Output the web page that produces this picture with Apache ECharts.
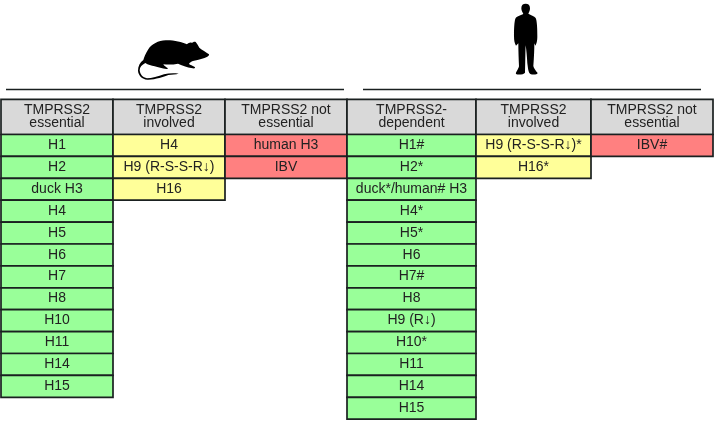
<!DOCTYPE html>
<html><head><meta charset="utf-8">
<style>html,body{margin:0;padding:0;background:#fff}#c{width:714px;height:422px}</style>
<script src="https://cdn.jsdelivr.net/npm/echarts@6/dist/echarts.min.js"></script>
</head><body><div id="c"></div>
<script>
// Table content
const headers = ["TMPRSS2\nessential","TMPRSS2\ninvolved","TMPRSS2 not\nessential","TMPRSS2-\ndependent","TMPRSS2\ninvolved","TMPRSS2 not\nessential"];
const mouseEssential = ["H1","H2","duck H3","H4","H5","H6","H7","H8","H10","H11","H14","H15"];
const mouseInvolved = ["H4","H9 (R-S-S-R↓)","H16"];
const mouseNotEssential = ["human H3","IBV"];
const humanDependent = ["H1#","H2*","duck*/human# H3","H4*","H5*","H6","H7#","H8","H9 (R↓)","H10*","H11","H14","H15"];
const humanInvolved = ["H9 (R-S-S-R↓)*","H16*"];
const humanNotEssential = ["IBV#"];

const columns = [mouseEssential,mouseInvolved,mouseNotEssential,humanDependent,humanInvolved,humanNotEssential];
const columnKinds = ["ok","mid","no","ok","mid","no"];

// Layout
const colEdges = [1,113,225,347,476,591,713];
const W = 714, H = 422, rowH = 21.9, tableTop = 134.5, headerRows = 1.6;
const fills = {head:"#D9D9D9", ok:"#99FF99", mid:"#FFFF99", no:"#FF8080"};
const ink = "#1a2020";
const FONT = '"Liberation Sans", Arial, sans-serif';

const cells = [];
headers.forEach((h,c)=>cells.push([c,-headerRows,0,h,"head"]));
columns.forEach((col,c)=>col.forEach((t,r)=>cells.push([c,r,r+1,t,columnKinds[c]])));

const ratPath = "M627 163 C618 156 606 150 598 143 C594 136 591 131 587 126 C583 124 578 127 576 129 C571 126 566 129 561 133 C545 126 520 120 497 121 C475 122 455 132 444 149 C437 160 433 170 430 180 C420 187 414 199 414 212 C415 226 426 238 442 239 C465 240 490 230 505 225 C515 223 528 223 536 221 C520 219 505 220 492 223 C475 229 455 235 441 235 C428 233 420 222 419 211 C419 201 426 194 436 189 C444 194 454 197 464 199 C474 202 487 206 499 207 C504 207 505 204 501 203 C496 200 492 197 490 193 C505 194 520 194 534 191 C545 195 560 202 578 205 C586 206 587 202 583 200 C577 197 571 195 567 192 C568 188 574 184 582 182 C596 179 612 175 622 170 C626 168 628 165 627 163 Z";
const manPath = "M514 25 C514 15 519 11 527 11 C535 11 540 15 540 25 C540 32 537 37 535 41 C542 46 553 48 557 54 C561 62 562 85 562 110 C562 122 560 131 556 137 L553 130 C553 150 552 170 550 198 C551 205 558 213 563 219 C562 224 548 225 541 222 C535 218 534 205 532 190 C531 170 529 150 527 136 C526 150 526 195 525 218 C522 223 505 226 498 222 C496 218 505 208 507 199 C506 175 505 150 505 130 L498 137 C494 130 492 122 492 108 C492 85 493 65 496 56 C500 48 511 47 520 42 C517 36 514 32 514 25 Z";
const silhouettes = [{path:ratPath,dx:0},{path:manPath,dx:350}];

const option = {
  animation:false,
  grid:{left:0,right:0,top:0,bottom:0,containLabel:false},
  xAxis:{type:"value",min:0,max:W,show:false},
  yAxis:{type:"value",inverse:true,min:-tableTop/rowH,max:(H-tableTop)/rowH,show:false},
  graphic:[
    {type:"line",shape:{x1:6,y1:89.5,x2:344,y2:89.5},style:{stroke:ink,lineWidth:1.6}},
    {type:"line",shape:{x1:363,y1:89.5,x2:701,y2:89.5},style:{stroke:ink,lineWidth:1.6}}
  ],
  series:[{
    type:"custom",
    coordinateSystem:"cartesian2d",
    silent:true,
    clip:false,
    encode:{x:0,y:1},
    data:cells.map(d=>[colEdges[d[0]],d[1],colEdges[d[0]+1],d[2],d[3],d[4]]),
    renderItem:(params,api)=>{
      const d = cells[params.dataIndex];
      const p0 = api.coord([colEdges[d[0]],d[1]]);
      const p1 = api.coord([colEdges[d[0]+1],d[2]]);
      return {type:"group",children:[
        {type:"rect",shape:{x:p0[0],y:p0[1],width:p1[0]-p0[0],height:p1[1]-p0[1]},
         style:{fill:fills[d[4]],stroke:ink,lineWidth:1.7}},
        {type:"text",style:{x:(p0[0]+p1[0])/2,y:(p0[1]+p1[1])/2-0.3,text:d[3],align:"center",verticalAlign:"middle",
          fill:"#222222",font:"14px "+FONT,lineHeight:13.4}}
      ]};
    }
  },{
    type:"custom",
    coordinateSystem:"cartesian2d",
    silent:true,
    clip:false,
    encode:{x:0,y:1},
    data:silhouettes.map(s=>[s.dx,0]),
    renderItem:(params)=>{
      const s = silhouettes[params.dataIndex];
      return {type:"path",x:s.dx,scaleX:1/3,scaleY:1/3,shape:{pathData:s.path},style:{fill:"#000"}};
    }
  }]
};
echarts.init(document.getElementById("c"),null,{renderer:"canvas"}).setOption(option);
</script></body></html>
